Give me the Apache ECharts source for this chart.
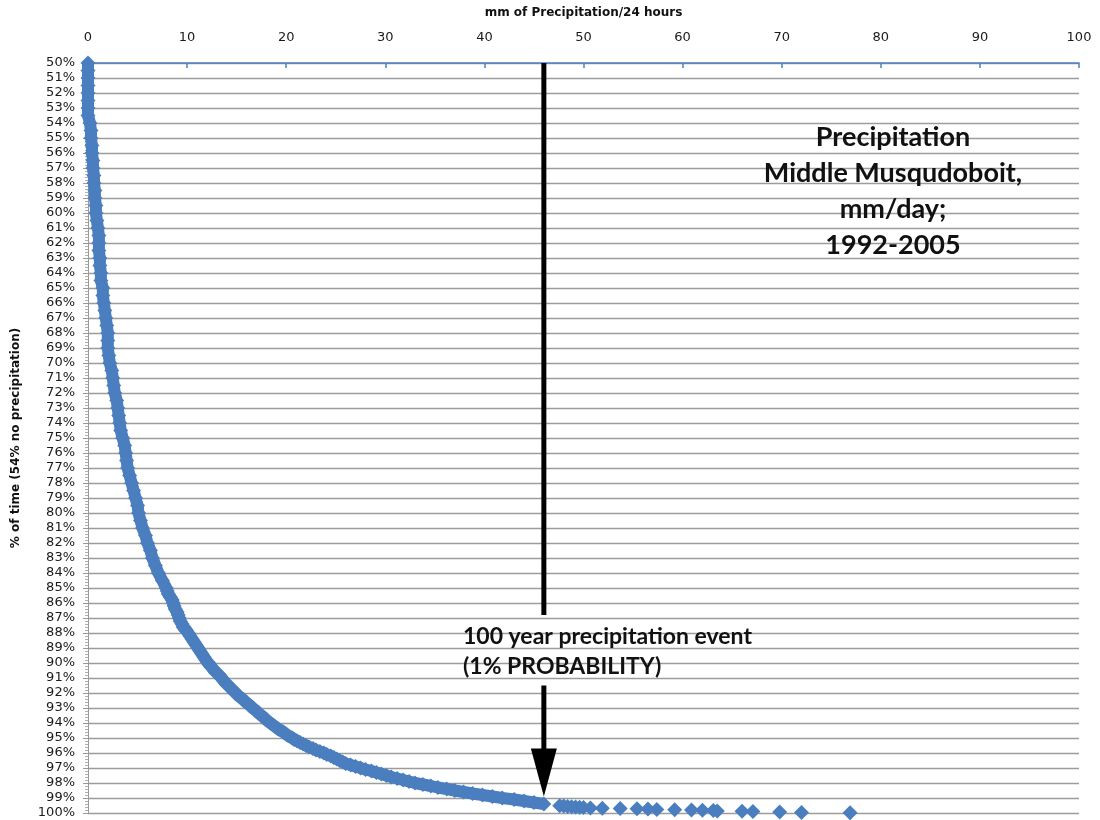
<!DOCTYPE html>
<html>
<head>
<meta charset="utf-8">
<script src="https://cdn.jsdelivr.net/npm/echarts@6/dist/echarts.min.js"></script>
<style>
html,body{margin:0;padding:0;background:#fff;}
#chart{width:1100px;height:820px;}
</style>
</head>
<body>
<div id="chart"></div>
<script>
// [% of time, mm/24h]
const steepSection = [[50,0],[50.5,0],[51,0],[51.5,0],[52,0],[52.5,0],[53,0],[53.5,0],[54,0.2],[54.5,0.3],[55,0.3],[55.5,0.4],[56,0.4],[56.5,0.5],[57,0.5],[57.5,0.6],[58,0.6],[58.5,0.7],[59,0.7],[59.5,0.8],[60,0.8],[60.5,0.9],[61,1.0],[61.5,1.1],[62,1.1],[62.5,1.1],[63,1.2],[63.5,1.2],[64,1.3],[64.5,1.3],[65,1.5],[65.5,1.5],[66,1.6],[66.5,1.7],[67,1.8],[67.5,1.9],[68,2.0],[68.5,2.0],[69,2.0],[69.5,2.1],[70,2.2],[70.5,2.4],[71,2.5],[71.5,2.6],[72,2.7],[72.5,2.9],[73,3.0],[73.5,3.1],[74,3.2],[74.5,3.3],[75,3.5],[75.5,3.7],[76,3.8],[76.5,3.9],[77,4.0],[77.5,4.2],[78,4.4],[78.5,4.6],[79,4.8],[79.5,5.0],[80,5.1],[80.5,5.3],[81,5.5],[81.5,5.8],[82,6.0],[82.5,6.3],[83,6.5],[83.5,6.8],[84,7.1],[84.5,7.5],[85,7.9]];
const bendSection = [[85.2,8.0],[85.4,8.1],[85.6,8.3],[85.8,8.5],[86,8.6],[86.2,8.7],[86.4,8.8],[86.6,9.0],[86.8,9.1],[87,9.2],[87.2,9.3],[87.4,9.5],[87.6,9.6],[87.8,9.9],[88,10.1],[88.2,10.3],[88.4,10.5],[88.6,10.7],[88.8,10.9],[89,11.1],[89.2,11.3],[89.4,11.5],[89.6,11.7],[89.8,11.9],[90,12.1],[90.2,12.4],[90.4,12.6],[90.6,12.9],[90.8,13.2],[91,13.5],[91.2,13.7],[91.4,14.0],[91.6,14.3],[91.8,14.6],[92,14.9],[92.2,15.2],[92.4,15.6],[92.6,15.9],[92.8,16.3],[93,16.6],[93.2,17.0],[93.4,17.3],[93.6,17.7],[93.8,18.0],[94,18.4],[94.2,18.8],[94.4,19.2],[94.6,19.7],[94.8,20.1],[95,20.6]];
const flatSection = [[95.1,20.8],[95.2,21.1],[95.3,21.4],[95.4,21.7],[95.5,22.0],[95.6,22.3],[95.7,22.7],[95.8,23.0],[95.9,23.4],[96.0,23.8],[96.1,24.1],[96.2,24.5],[96.3,24.8],[96.4,25.1],[96.5,25.4],[96.6,25.7],[96.7,26.0],[96.8,26.5],[96.9,27.0],[97.0,27.5],[97.1,28.0],[97.2,28.6],[97.3,29.1],[97.4,29.6],[97.5,30.1],[97.6,30.6],[97.7,31.2],[97.8,31.8],[97.9,32.4],[98.0,33.0],[98.1,33.8],[98.2,34.6],[98.3,35.3],[98.4,36.2],[98.5,37.0],[98.6,37.9],[98.7,38.8],[98.8,39.8],[98.9,40.8],[99.0,41.8],[99.1,43.0],[99.2,44.0],[99.3,45.0],[99.4,46.0]];
const tailSection = [[99.52,47.6],[99.54,48.0],[99.56,48.4],[99.58,48.8],[99.60,49.2],[99.62,49.6],[99.64,50.0],[99.66,50.7],[99.68,51.9],[99.70,53.7],[99.72,55.4],[99.74,56.5],[99.76,57.4],[99.78,59.2],[99.80,60.9],[99.82,62.0],[99.84,63.1],[99.86,63.5],[99.88,66.0],[99.90,67.1],[99.93,69.8],[99.96,72.0],[99.99,76.9]];
// 100-year event marker: [mm, line top %, gap start %, gap end %, arrow tip %]
const eventMarker = [[46, 50, 86.8, 91.5, 98.9]];
const xTicks = [0,10,20,30,40,50,60,70,80,90,100];

const densePoints = [].concat(steepSection, bendSection, flatSection).map(d => [d[1], d[0]]);
const allPoints = densePoints.concat(tailSection.map(d => [d[1], d[0]]));
const BLUE = '#4A7EBF';

const chart = echarts.init(document.getElementById('chart'));
chart.setOption({
  backgroundColor: '#ffffff',
  animation: false,
  grid: {left: 88, right: 21, top: 63, bottom: 7},
  xAxis: {
    type: 'value', position: 'top', min: 0, max: 100, interval: 10,
    name: 'mm of Precipitation/24 hours', nameLocation: 'middle', nameGap: 44,
    nameTextStyle: {fontFamily: 'DejaVu Sans', fontWeight: 'bold', fontSize: 12, color: '#111'},
    axisLine: {show: true, lineStyle: {color: '#4F81BD', width: 1.5}},
    axisTick: {show: true, inside: true, length: 5, lineStyle: {color: '#4F81BD', width: 1.5}},
    axisLabel: {margin: 19, fontFamily: 'DejaVu Sans', fontSize: 13, color: '#1a1a1a',
      formatter: v => xTicks.indexOf(v) >= 0 ? String(v) : ''},
    splitLine: {show: false}
  },
  yAxis: {
    type: 'value', inverse: true, min: 50, max: 100, interval: 1,
    name: '% of time (54% no precipitation)', nameLocation: 'middle', nameGap: 66, nameRotate: 90,
    nameTextStyle: {fontFamily: 'DejaVu Sans', fontWeight: 'bold', fontSize: 12, color: '#111'},
    axisLine: {show: true, lineStyle: {color: '#9a9a9a', width: 1}},
    axisTick: {show: true, length: 5, lineStyle: {color: '#9a9a9a'}},
    minorTick: {show: true, splitNumber: 5, length: 3, lineStyle: {color: '#b0b0b0'}},
    axisLabel: {margin: 13, fontFamily: 'DejaVu Sans', fontSize: 13, color: '#1a1a1a', formatter: v => v + '%'},
    splitLine: {show: true, lineStyle: {color: '#9c9c9c', width: 1.4}}
  },
  graphic: [
    {type: 'text', x: 893, y: 119, z: 10, style: {text: 'Precipitation\nMiddle Musqudoboit,\nmm/day;\n1992-2005', align: 'center', verticalAlign: 'top', font: 'bold 27px Lato', lineHeight: 36, fill: '#111'}},
    {type: 'text', x: 463, y: 622, z: 10, style: {text: '100 year precipitation event\n(1% PROBABILITY)', align: 'left', verticalAlign: 'top', font: 'bold 23px Lato', lineHeight: 30, fill: '#111'}}
  ],
  series: [
    {
      type: 'line', data: densePoints, showSymbol: false, symbol: 'none', z: 2, silent: true,
      lineStyle: {color: BLUE, width: 12}, itemStyle: {color: BLUE}
    },
    {
      type: 'scatter', data: allPoints, symbol: 'diamond', symbolSize: 15,
      itemStyle: {color: BLUE, opacity: 1}, z: 3, silent: true
    },
    {
      type: 'custom', data: eventMarker, z: 4, silent: true, clip: false,
      encode: {x: 0, y: 1},
      renderItem: function (params, api) {
        const x = api.value(0);
        const a = api.coord([x, api.value(1)]);
        const b = api.coord([x, api.value(2)]);
        const c = api.coord([x, api.value(3)]);
        const t = api.coord([x, api.value(4)]);
        const headLen = 48, headW = 13;
        return {type: 'group', children: [
          {type: 'line', shape: {x1: a[0], y1: a[1], x2: b[0], y2: b[1]}, style: {stroke: '#000', lineWidth: 5}},
          {type: 'line', shape: {x1: c[0], y1: c[1], x2: t[0], y2: t[1] - headLen + 2}, style: {stroke: '#000', lineWidth: 5}},
          {type: 'polygon', shape: {points: [[t[0] - headW, t[1] - headLen], [t[0] + headW, t[1] - headLen], [t[0], t[1]]]}, style: {fill: '#000'}}
        ]};
      }
    }
  ]
});
</script>
</body>
</html>
